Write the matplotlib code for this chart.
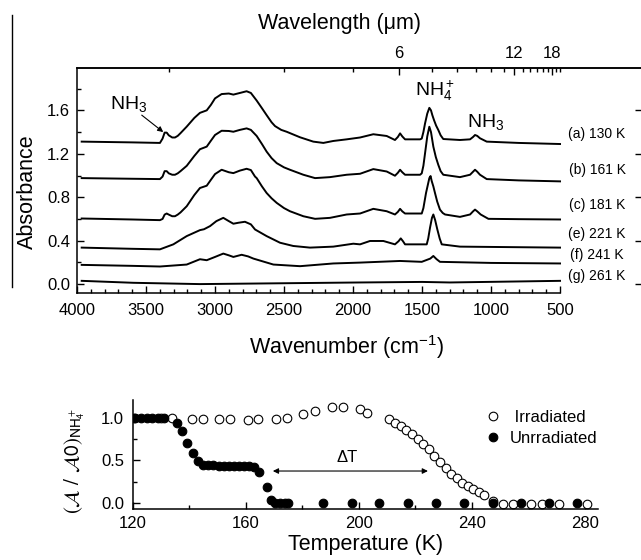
import matplotlib
matplotlib.use('Agg')
import matplotlib.pyplot as plt
from matplotlib.lines import Line2D

plt.rcParams['font.family'] = ['Liberation Sans', 'DejaVu Sans']
plt.rcParams['mathtext.fontset'] = 'custom'
plt.rcParams['mathtext.rm'] = 'Liberation Sans'
plt.rcParams['mathtext.it'] = 'Liberation Sans:italic'
plt.rcParams['mathtext.bf'] = 'Liberation Sans:bold'

# ---------------- spectra (wavenumber cm-1, absorbance with offsets) ----------------
wn_a = [3966, 3600, 3399, 3380, 3365, 3350, 3335, 3310, 3290, 3270, 3250, 3205, 3150, 3109,
        3060, 3030, 3000, 2952, 2900, 2867, 2820, 2771, 2740, 2698, 2660, 2626, 2590, 2565,
        2520, 2481, 2384, 2288, 2215, 2143, 2046, 1949, 1853, 1756, 1696, 1675, 1659, 1643,
        1623, 1514, 1502, 1490, 1478, 1462, 1447, 1435, 1425, 1413, 1398, 1382, 1365, 1346,
        1225, 1152, 1130, 1116, 1100, 1080, 1031, 800, 500]
abs_a = [1.312, 1.305, 1.300, 1.340, 1.395, 1.395, 1.370, 1.350, 1.350, 1.365, 1.390, 1.450,
         1.530, 1.577, 1.600, 1.650, 1.710, 1.750, 1.755, 1.745, 1.760, 1.776, 1.760, 1.690,
         1.620, 1.556, 1.490, 1.455, 1.420, 1.403, 1.352, 1.312, 1.300, 1.318, 1.333, 1.350,
         1.380, 1.364, 1.327, 1.355, 1.388, 1.360, 1.333, 1.333, 1.340, 1.400, 1.480, 1.570,
         1.623, 1.600, 1.555, 1.510, 1.460, 1.419, 1.370, 1.336, 1.327, 1.333, 1.355, 1.373,
         1.365, 1.343, 1.312, 1.300, 1.290]

wn_b = [3966, 3600, 3399, 3380, 3365, 3350, 3335, 3310, 3290, 3270, 3250, 3205, 3150, 3109,
        3060, 3030, 3000, 2952, 2900, 2867, 2820, 2771, 2740, 2698, 2660, 2626, 2590, 2553,
        2500, 2457, 2360, 2275, 2167, 2046, 1949, 1853, 1756, 1696, 1675, 1659, 1643, 1623,
        1514, 1502, 1490, 1478, 1462, 1447, 1435, 1418, 1400, 1382, 1365, 1346, 1225, 1152,
        1130, 1116, 1100, 1080, 1031, 800, 500]
abs_b = [0.976, 0.970, 0.967, 0.990, 1.040, 1.040, 1.020, 1.007, 1.007, 1.020, 1.040, 1.089,
         1.180, 1.242, 1.266, 1.320, 1.373, 1.412, 1.410, 1.403, 1.420, 1.434, 1.420, 1.364,
         1.290, 1.220, 1.160, 1.114, 1.075, 1.053, 1.007, 0.976, 0.985, 1.007, 1.016, 1.059,
         1.037, 0.998, 1.025, 1.053, 1.030, 1.007, 1.007, 1.020, 1.090, 1.205, 1.360, 1.449,
         1.400, 1.266, 1.170, 1.098, 1.040, 1.007, 0.985, 1.007, 1.035, 1.053, 1.035, 1.007,
         0.967, 0.955, 0.946]

wn_c = [3966, 3600, 3399, 3380, 3365, 3350, 3335, 3310, 3290, 3270, 3250, 3205, 3150, 3109,
        3060, 3030, 3000, 2952, 2900, 2867, 2820, 2771, 2740, 2710, 2698, 2660, 2626, 2590,
        2553, 2500, 2457, 2360, 2275, 2167, 2046, 1949, 1853, 1756, 1696, 1675, 1659, 1643,
        1623, 1502, 1490, 1471, 1455, 1447, 1438, 1430, 1418, 1406, 1390, 1370, 1350, 1333,
        1225, 1152, 1130, 1116, 1100, 1075, 1019, 800, 500]
abs_c = [0.604, 0.595, 0.589, 0.600, 0.640, 0.650, 0.640, 0.625, 0.625, 0.640, 0.660, 0.717,
         0.820, 0.885, 0.906, 0.960, 1.013, 1.053, 1.030, 1.022, 1.045, 1.062, 1.050, 0.990,
         0.976, 0.900, 0.839, 0.790, 0.748, 0.700, 0.671, 0.625, 0.601, 0.610, 0.641, 0.650,
         0.693, 0.671, 0.641, 0.665, 0.693, 0.670, 0.650, 0.650, 0.700, 0.839, 0.930, 0.976,
         0.995, 0.950, 0.900, 0.839, 0.760, 0.686, 0.655, 0.641, 0.619, 0.641, 0.670, 0.686,
         0.670, 0.641, 0.601, 0.598, 0.595]

wn_e = [3966, 3600, 3399, 3302, 3205, 3109, 3080, 3036, 2990, 2940, 2900, 2867, 2830, 2783,
        2740, 2710, 2626, 2529, 2433, 2312, 2143, 1998, 1949, 1877, 1780, 1696, 1670, 1654,
        1638, 1623, 1466, 1455, 1442, 1428, 1418, 1405, 1389, 1372, 1357, 1225, 500]
abs_e = [0.336, 0.325, 0.320, 0.366, 0.442, 0.497, 0.505, 0.534, 0.580, 0.610, 0.580, 0.556,
         0.565, 0.574, 0.550, 0.503, 0.442, 0.381, 0.351, 0.336, 0.345, 0.372, 0.366, 0.397,
         0.397, 0.366, 0.395, 0.421, 0.395, 0.366, 0.366, 0.420, 0.519, 0.610, 0.641, 0.590,
         0.503, 0.420, 0.366, 0.345, 0.336]

wn_f = [3966, 3600, 3399, 3205, 3109, 3060, 3000, 2940, 2900, 2867, 2807, 2760, 2722, 2577,
        2384, 2143, 1949, 1659, 1502, 1440, 1418, 1395, 1370, 1000, 500]
abs_f = [0.177, 0.168, 0.162, 0.180, 0.229, 0.220, 0.250, 0.281, 0.265, 0.250, 0.270, 0.255,
         0.235, 0.180, 0.165, 0.190, 0.198, 0.213, 0.205, 0.235, 0.259, 0.230, 0.205, 0.195,
         0.190]

wn_g = [3966, 3592, 3109, 1949, 1500, 1300, 500]
abs_g = [0.030, 0.012, 0.000, 0.015, 0.020, 0.015, 0.030]

spectra_labels = ['(a) 130 K', '(b) 161 K', '(c) 181 K', '(e) 221 K', '(f) 241 K', '(g) 261 K']

# ---------------- integrated band ratio vs temperature ----------------
T_irr = [120.6, 130.0, 133.8, 140.9, 144.8, 150.7, 154.5, 160.9, 164.5, 170.6, 174.5, 180.4,
         184.5, 190.4, 194.5, 200.4, 202.8, 210.7, 212.8, 214.8, 216.6, 218.7, 220.8, 222.8,
         224.8, 226.7, 228.7, 230.7, 232.5, 234.6, 236.5, 238.4, 240.4, 242.4, 244.3, 247.5,
         250.8, 254.6, 260.8, 264.6, 270.8, 280.7]
R_irr = [1.00, 1.00, 1.00, 0.985, 0.985, 0.985, 0.985, 0.98, 0.985, 0.985, 1.00, 1.047,
         1.086, 1.13, 1.126, 1.11, 1.06, 0.985, 0.94, 0.90, 0.86, 0.81, 0.75, 0.69,
         0.63, 0.55, 0.48, 0.41, 0.34, 0.29, 0.24, 0.20, 0.16, 0.13, 0.09, 0.02,
         -0.01, -0.01, -0.01, -0.01, -0.01, -0.01]

T_unirr = [121, 123, 125, 127, 129, 131, 135.6, 137.4, 139.1, 141.3, 143.0, 145.0, 146.8,
           148.6, 150.4, 152.2, 154.0, 155.8, 157.6, 159.4, 161.2, 163.0, 164.7, 167.4,
           168.8, 170.5, 172.2, 173.9, 175.1, 187.2, 197.4, 207.2, 217.2, 227.2, 237.2,
           247.3, 257.3, 267.3, 277.2]
R_unirr = [1.00, 1.00, 1.00, 1.00, 1.00, 1.00, 0.94, 0.85, 0.71, 0.585, 0.49, 0.45, 0.445,
           0.445, 0.44, 0.44, 0.44, 0.44, 0.44, 0.435, 0.43, 0.42, 0.36, 0.185,
           0.035, 0.0, 0.0, 0.0, 0.0, 0.0, 0.0, 0.0, 0.0, 0.0, 0.0,
           0.0, 0.0, 0.0, 0.0]

W, H = 641, 560
fig = plt.figure(figsize=(W / 100, H / 100), dpi=100)


def fx(px):
    return px / W


def fy(py):
    return 1 - py / H


# ================= top panel =================
ax = fig.add_axes([fx(77), fy(293), fx(642) - fx(77), fy(68) - fy(293)])
curves = [(wn_a, abs_a), (wn_b, abs_b), (wn_c, abs_c), (wn_e, abs_e), (wn_f, abs_f), (wn_g, abs_g)]
for wn, ab in curves:
    ax.plot(wn, ab, color='black', lw=1.4, solid_joinstyle='round')
ax.set_xlim(4000, -94)
ax.set_ylim(-0.082, 1.99)

for s in ['left', 'bottom', 'top']:
    ax.spines[s].set_linewidth(1.1)
ax.spines['right'].set_visible(False)
ax.spines['bottom'].set_bounds(4000, 500)
ax.set_xticks(list(range(4000, 499, -500)))
ax.set_xticks(list(range(4000, 499, -100)), minor=True)
ax.set_yticks([0.0, 0.4, 0.8, 1.2, 1.6])
ax.set_yticklabels(['0.0', '0.4', '0.8', '1.2', '1.6'])
ax.set_yticks([0.2, 0.6, 1.0, 1.4, 1.8], minor=True)
ax.tick_params(axis='both', which='both', direction='in', labelsize=12, width=1.0)
ax.tick_params(axis='both', which='major', length=5)
ax.tick_params(axis='both', which='minor', length=3)
ax.tick_params(axis='x', which='major', pad=7)
ax.tick_params(axis='y', which='major', right=True, pad=5)

# top wavelength axis
axt = ax.twiny()
axt.set_xlim(ax.get_xlim())
for s in ['left', 'bottom', 'right']:
    axt.spines[s].set_visible(False)
axt.spines['top'].set_linewidth(1.1)
wl_major = [6, 12, 18]
wl_minor = [3, 4, 5, 7, 8, 9, 10, 11, 13, 14, 15, 16, 17, 19, 20]
axt.set_xticks([1e4 / l for l in wl_major])
axt.set_xticklabels([str(l) for l in wl_major])
axt.set_xticks([1e4 / l for l in wl_minor], minor=True)
axt.tick_params(axis='x', which='both', direction='in', labelsize=12, width=1.0, pad=5)
axt.tick_params(axis='x', which='major', length=5)
axt.tick_params(axis='x', which='minor', length=3)

label_y = [1.382, 1.053, 0.732, 0.458, 0.265, 0.073]
for lab, yv in zip(spectra_labels, label_y):
    ax.text(232, yv, lab, ha='center', va='center', fontsize=10)

ax.annotate('', xy=(3375, 1.40), xytext=(3531, 1.556),
            arrowprops=dict(arrowstyle='-|>', lw=0.8, color='black', mutation_scale=8,
                            shrinkA=0, shrinkB=0))
ax.text(3761, 1.617, r'NH$_3$', ha='left', va='baseline', fontsize=14)
ax.text(1551, 1.739, r'NH$_4^+$', ha='left', va='baseline', fontsize=14)
ax.text(1174, 1.446, r'NH$_3$', ha='left', va='baseline', fontsize=14)

fig.text(fx(340), fy(23), 'Wavelength (\u03bcm)', ha='center', va='center', fontsize=15.5)
fig.text(fx(347), fy(347), r'Wavenumber (cm$^{-1}$)', ha='center', va='center', fontsize=15.5)
fig.text(fx(27), fy(192), 'Absorbance', ha='center', va='center', fontsize=15.5, rotation=90)
fig.add_artist(Line2D([fx(12), fx(12)], [fy(15), fy(287)], transform=fig.transFigure,
                      color='black', lw=1.0))

# ================= bottom panel =================
ax2 = fig.add_axes([fx(132.5), fy(509), fx(598) - fx(132.5), fy(400) - fy(509)])
ax2.plot(T_irr, R_irr, 'o', ms=6.2, mfc='white', mec='black', mew=0.8, label=' Irradiated')
ax2.plot(T_unirr, R_unirr, 'o', ms=6.2, mfc='black', mec='black', mew=0.8, label='Unrradiated')
ax2.set_xlim(120, 284.5)
ax2.set_ylim(-0.07, 1.21)
ax2.spines['top'].set_visible(False)
ax2.spines['right'].set_visible(False)
for s in ['left', 'bottom']:
    ax2.spines[s].set_linewidth(1.1)
ax2.set_xticks([120, 160, 200, 240, 280])
ax2.set_xticks([140, 180, 220, 260], minor=True)
ax2.set_yticks([0.0, 0.5, 1.0])
ax2.set_yticklabels(['0.0', '0.5', '1.0'])
ax2.set_yticks([0.25, 0.75], minor=True)
ax2.tick_params(axis='both', which='both', direction='in', labelsize=12, width=1.0)
ax2.tick_params(axis='both', which='major', length=5)
ax2.tick_params(axis='both', which='minor', length=3)
ax2.tick_params(axis='x', which='major', pad=5)
ax2.tick_params(axis='y', which='major', pad=6)
ax2.set_xlabel('Temperature (K)', fontsize=15.5, labelpad=2)

fig.text(fx(75), fy(461), r'$(\mathcal{A}\ /\ \mathcal{A}0)_{\mathrm{NH}_4^+}$', ha='center',
         va='center', rotation=90, fontsize=15, math_fontfamily='stixsans')

ax2.annotate('', xy=(169.6, 0.376), xytext=(224.4, 0.376),
             arrowprops=dict(arrowstyle='<|-|>', lw=0.8, color='black', mutation_scale=8,
                             shrinkA=0, shrinkB=0))
ax2.text(196, 0.53, '\u0394T', ha='center', va='center', fontsize=12)

ax2.legend(loc='upper left', bbox_to_anchor=(fx(485), fy(410)), bbox_transform=fig.transFigure,
           frameon=False, fontsize=12, handlelength=1.0, handletextpad=0.5, labelspacing=0.35,
           borderpad=0, borderaxespad=0)

fig.savefig('out.png', dpi=100)
